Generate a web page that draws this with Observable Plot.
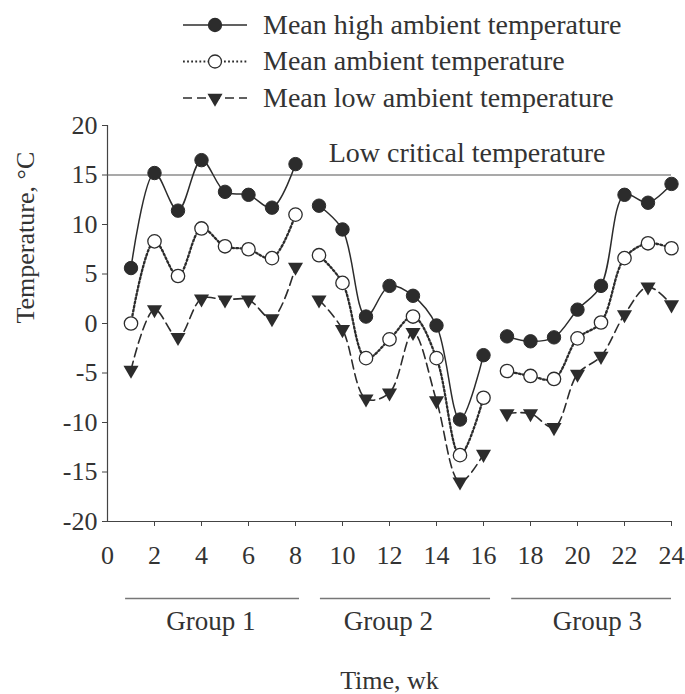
<!DOCTYPE html>
<html>
<head>
<meta charset="utf-8">
<script src="https://cdn.jsdelivr.net/npm/d3@7"></script>
<script src="https://cdn.jsdelivr.net/npm/@observablehq/plot@0.6"></script>
<style>
  html, body { margin: 0; padding: 0; background: #fff; }
  #legend { display: block; }
  #chart svg { display: block; overflow: visible; }
</style>
</head>
<body>
<svg id="legend" width="685" height="114"></svg>
<div id="chart"></div>
<script>
// ---- Data ----
const weeks = [1,2,3,4,5,6,7,8, 9,10,11,12,13,14,15,16, 17,18,19,20,21,22,23,24];
const groupOfWeek = ["Group 1","Group 1","Group 1","Group 1","Group 1","Group 1","Group 1","Group 1",
                     "Group 2","Group 2","Group 2","Group 2","Group 2","Group 2","Group 2","Group 2",
                     "Group 3","Group 3","Group 3","Group 3","Group 3","Group 3","Group 3","Group 3"];
const meanHigh = [5.6, 15.2, 11.4, 16.5, 13.3, 13.0, 11.7, 16.1,
                  11.9, 9.5, 0.7, 3.8, 2.8, -0.2, -9.7, -3.2,
                  -1.3, -1.8, -1.4, 1.4, 3.8, 13.0, 12.2, 14.1];
const meanAmbient = [0.0, 8.3, 4.8, 9.6, 7.8, 7.5, 6.6, 11.0,
                     6.9, 4.1, -3.5, -1.6, 0.7, -3.5, -13.3, -7.5,
                     -4.8, -5.3, -5.6, -1.5, 0.1, 6.6, 8.1, 7.6];
const meanLow = [-4.7, 1.4, -1.4, 2.5, 2.4, 2.4, 0.5, 5.7,
                 2.4, -0.6, -7.6, -7.0, -0.9, -7.8, -16.0, -13.2,
                 -9.1, -9.1, -10.5, -5.1, -3.3, 0.9, 3.7, 1.9];
const seriesNames = ["Mean high ambient temperature", "Mean ambient temperature", "Mean low ambient temperature"];
const xTickValues = [0,2,4,6,8,10,12,14,16,18,20,22,24];
const yTickValues = [-20,-15,-10,-5,0,5,10,15,20];
const groupNames = ["Group 1", "Group 2", "Group 3"];
const groupStart = [0.77, 9.06, 17.2];
const groupEnd = [8.17, 16.3, 24.0];
const groupLabelX = [4.4, 11.95, 20.85];
const criticalTemp = [15];
const criticalLabel = ["Low critical temperature"];
const criticalLabelX = [15.3];

// ---- Tables built from the arrays ----
const rows = weeks.map((w, i) => ({week: w, group: groupOfWeek[i], high: meanHigh[i], mean: meanAmbient[i], low: meanLow[i]}));
const groups = groupNames.map((g, i) => ({name: g, x1: groupStart[i], x2: groupEnd[i], xc: groupLabelX[i]}));
const critical = criticalTemp.map((t, i) => ({y: t, x: criticalLabelX[i], label: criticalLabel[i]}));

const ink = "#2c2c2c";
const font = "'Liberation Serif', 'Times New Roman', serif";
const dotDash = "1.8,2.3";
const lowDash = "9,5";

// ---- Legend ----
const styles = [
  {dash: null, symbol: "circle", fill: ink},
  {dash: dotDash, symbol: "circle", fill: "white"},
  {dash: lowDash, symbol: "triangle", fill: ink}
];
const leg = d3.select("#legend");
seriesNames.forEach((name, i) => {
  const cy = 25 + i * 36.5;
  const s = styles[i];
  const g = leg.append("g");
  g.append("line").attr("x1", 183).attr("x2", 247).attr("y1", cy).attr("y2", cy)
    .attr("stroke", ink).attr("stroke-width", s.dash ? (i === 1 ? 2.2 : 1.6) : 1.5)
    .attr("stroke-dasharray", s.dash);
  if (s.symbol === "circle") {
    g.append("circle").attr("cx", 215).attr("cy", cy).attr("r", 6.5)
      .attr("fill", s.fill).attr("stroke", ink).attr("stroke-width", 1.3);
  } else {
    g.append("path").attr("d", d3.symbol(d3.symbolTriangle, Math.PI * 5.6 * 5.6)())
      .attr("transform", `translate(215,${cy}) rotate(180)`).attr("fill", ink);
  }
  g.append("text").attr("x", 263).attr("y", cy + 8.5).attr("font-family", font)
    .attr("font-size", 28).attr("fill", "#333").text(name);
});

// ---- Chart ----
const chart = Plot.plot({
  width: 685,
  height: 580,
  marginTop: 11,
  marginBottom: 173,
  marginLeft: 107,
  marginRight: 14,
  style: {fontFamily: font, fontSize: "26px", color: "#333", background: "white", overflow: "visible"},
  x: {domain: [0, 24]},
  y: {domain: [-20, 20]},
  marks: [
    Plot.axisX({ticks: xTickValues.filter(d => d !== 0), tickSize: 5, text: null, label: null, stroke: "#444"}),
    Plot.axisX({ticks: xTickValues, tickSize: 0, tickPadding: 24, tickFormat: d => String(d), label: null, fontSize: 26}),
    Plot.axisY({ticks: yTickValues, tickSize: 5, tickPadding: 5, tickFormat: d => String(d), label: null, fontSize: 26, stroke: "#444"}),
    Plot.ruleX([0], {stroke: "#444", strokeWidth: 1.2}),
    Plot.ruleY([-20], {stroke: "#444", strokeWidth: 1.2}),
    Plot.ruleY(critical, {y: "y", stroke: "#555", strokeWidth: 1.2}),
    Plot.text(critical, {x: "x", y: "y", text: "label", dy: -22, fontSize: 28, fill: "#333"}),
    // series lines
    Plot.line(rows, {x: "week", y: "high", z: "group", curve: "catmull-rom", stroke: ink, strokeWidth: 1.5}),
    Plot.line(rows, {x: "week", y: "mean", z: "group", curve: "catmull-rom", stroke: ink, strokeWidth: 2.3, strokeDasharray: dotDash}),
    Plot.line(rows, {x: "week", y: "low", z: "group", curve: "catmull-rom", stroke: ink, strokeWidth: 1.6, strokeDasharray: lowDash}),
    // markers
    Plot.dot(rows, {x: "week", y: "high", r: 6.7, fill: ink, stroke: ink, strokeWidth: 1}),
    Plot.dot(rows, {x: "week", y: "mean", r: 6.7, fill: "white", stroke: ink, strokeWidth: 1.3}),
    Plot.dot(rows, {x: "week", y: "low", r: 5.6, symbol: "triangle", rotate: 180, fill: ink}),
    // group brackets below the axis
    Plot.ruleY(groups, {y: -20, x1: "x1", x2: "x2", dy: 77, stroke: "#777", strokeWidth: 1.5}),
    Plot.text(groups, {x: "xc", y: -20, text: "name", dy: 100, fontSize: 27, fill: "#333"}),
    // axis titles
    Plot.text(["Time, wk"], {frameAnchor: "bottom", dy: 167, fontSize: 26, fill: "#333"}),
    Plot.text(["Temperature, °C"], {frameAnchor: "left", dx: -82, rotate: -90, fontSize: 26, fill: "#333"})
  ]
});
document.getElementById("chart").appendChild(chart);
</script>
</body>
</html>
